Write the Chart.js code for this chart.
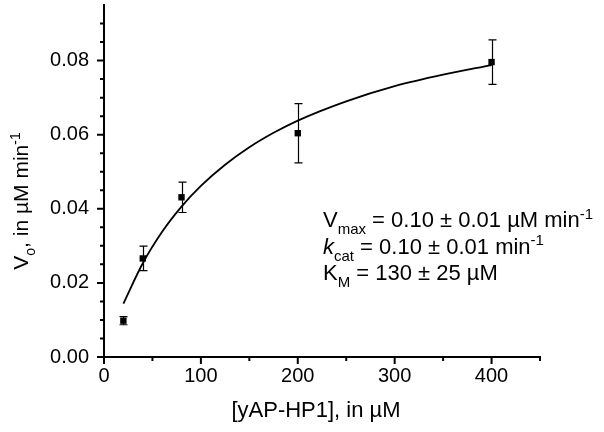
<!DOCTYPE html>
<html>
<head>
<meta charset="utf-8">
<script src="https://cdn.jsdelivr.net/npm/chart.js@4"></script>
<style>
  html, body { margin: 0; padding: 0; background: #fff; }
</style>
</head>
<body>
<canvas id="kinChart" width="604" height="432"></canvas>
<script>
// measured points (substrate conc, initial rate, error)
const conc = [20, 40, 80, 200, 400];
const rate = [0.0098, 0.0266, 0.0431, 0.0604, 0.0796];
const rateErr = [0.0011, 0.0033, 0.0041, 0.0080, 0.0060];

// fitted curve
const fitConc = [20, 40, 60, 80, 100, 125, 150, 175, 200, 250, 300, 350, 400];
const fitRate = [0.0144, 0.0253, 0.0338, 0.0406, 0.0462, 0.0519, 0.0566, 0.0605, 0.0638, 0.0690, 0.0731, 0.0762, 0.0788];

const xTicks = [0, 100, 200, 300, 400];
const xMinorTicks = [50, 150, 250, 350, 450];
const yTicks = [0, 0.02, 0.04, 0.06, 0.08];
const yMinorTicks = [0.005, 0.01, 0.015, 0.025, 0.03, 0.035, 0.045, 0.05, 0.055, 0.065, 0.07, 0.075, 0.085, 0.09];

const fontFamily = "'Liberation Sans', Arial, sans-serif";
const ink = '#000';

// rich text helpers (sub/superscripts, italics)
function partFont(p, size) {
  const s = (p.sub || p.sup) ? Math.round(size * 0.68) : size;
  return `${p.italic ? 'italic ' : ''}${s}px ${fontFamily}`;
}
function measureRich(ctx, parts, size) {
  let w = 0;
  parts.forEach(p => { ctx.font = partFont(p, size); w += ctx.measureText(p.t).width; });
  return w;
}
function drawRich(ctx, x, y, parts, size) {
  let cx = x;
  parts.forEach(p => {
    ctx.font = partFont(p, size);
    const dy = p.sub ? size * 0.32 : p.sup ? -size * 0.38 : 0;
    ctx.fillText(p.t, cx, y + dy);
    cx += ctx.measureText(p.t).width;
  });
}

const yTitle = [{t: 'V'}, {t: 'o', sub: true}, {t: ', in \u00b5M min'}, {t: '-1', sup: true}];
const xTitle = [{t: '[yAP-HP1], in \u00b5M'}];
const fitText = [
  [{t: 'V'}, {t: 'max', sub: true}, {t: ' = 0.10 \u00b1 0.01 \u00b5M min'}, {t: '-1', sup: true}],
  [{t: 'k', italic: true}, {t: 'cat', sub: true}, {t: ' = 0.10 \u00b1 0.01 min'}, {t: '-1', sup: true}],
  [{t: 'K'}, {t: 'M', sub: true}, {t: ' = 130 \u00b1 25 \u00b5M'}]
];

const decorPlugin = {
  id: 'decor',
  beforeDatasetsDraw(chart) {
    const { ctx, scales: { x, y } } = chart;
    ctx.save();
    ctx.strokeStyle = ink;
    ctx.lineWidth = 1.2;
    conc.forEach((c, i) => {
      const px = Math.round(x.getPixelForValue(c)) + 0.5;
      const top = y.getPixelForValue(rate[i] + rateErr[i]);
      const bot = y.getPixelForValue(rate[i] - rateErr[i]);
      ctx.beginPath();
      ctx.moveTo(px, top); ctx.lineTo(px, bot);
      ctx.moveTo(px - 4, top); ctx.lineTo(px + 4, top);
      ctx.moveTo(px - 4, bot); ctx.lineTo(px + 4, bot);
      ctx.stroke();
    });
    ctx.restore();
  },
  afterDraw(chart) {
    const { ctx, chartArea: area, scales: { x, y } } = chart;
    ctx.save();
    ctx.strokeStyle = ink;
    ctx.fillStyle = ink;
    ctx.lineWidth = 2;
    ctx.beginPath();
    xTicks.forEach(v => { const p = x.getPixelForValue(v); ctx.moveTo(p, area.bottom); ctx.lineTo(p, area.bottom + 7); });
    xMinorTicks.forEach(v => { const p = x.getPixelForValue(v); ctx.moveTo(p, area.bottom); ctx.lineTo(p, area.bottom + 4); });
    yTicks.forEach(v => { const p = y.getPixelForValue(v); ctx.moveTo(area.left, p); ctx.lineTo(area.left - 7, p); });
    yMinorTicks.forEach(v => { const p = y.getPixelForValue(v); ctx.moveTo(area.left, p); ctx.lineTo(area.left - 4, p); });
    ctx.stroke();

    ctx.textBaseline = 'alphabetic';
    // x title
    const xw = measureRich(ctx, xTitle, 22);
    drawRich(ctx, (area.left + area.right) / 2 - xw / 2 - 6, 417, xTitle, 22);
    // y title, rotated
    const yw = measureRich(ctx, yTitle, 21);
    ctx.save();
    ctx.translate(28, (area.top + area.bottom) / 2 + 20);
    ctx.rotate(-Math.PI / 2);
    drawRich(ctx, -yw / 2, 0, yTitle, 21);
    ctx.restore();
    // fit parameters
    fitText.forEach((line, i) => drawRich(ctx, 323, 227 + i * 26.5, line, 22));
    ctx.restore();
  }
};

new Chart(document.getElementById('kinChart'), {
  data: {
    datasets: [
      {
        type: 'line',
        data: fitConc.map((c, i) => ({ x: c, y: fitRate[i] })),
        borderColor: ink,
        borderWidth: 1.8,
        pointRadius: 0,
        fill: false,
        cubicInterpolationMode: 'monotone'
      },
      {
        type: 'scatter',
        data: conc.map((c, i) => ({ x: c, y: rate[i] })),
        pointStyle: 'rect',
        pointRadius: 4.5,
        backgroundColor: ink,
        borderColor: ink,
        borderWidth: 0
      }
    ]
  },
  options: {
    responsive: false,
    animation: false,
    devicePixelRatio: 1,
    layout: { padding: { left: 0, top: 5, right: 64, bottom: 0 } },
    plugins: { legend: { display: false }, tooltip: { enabled: false } },
    scales: {
      x: {
        type: 'linear',
        min: 0,
        max: 450,
        afterBuildTicks: s => { s.ticks = xTicks.map(v => ({ value: v })); },
        afterFit: s => { s.height = 75; s.paddingLeft = 0; s.paddingRight = 0; },
        grid: { display: false, drawTicks: false },
        border: { display: true, color: ink, width: 2 },
        ticks: { color: ink, padding: 7, font: { family: fontFamily, size: 20 }, maxRotation: 0 }
      },
      y: {
        type: 'linear',
        min: 0,
        max: 0.095,
        afterBuildTicks: s => { s.ticks = yTicks.map(v => ({ value: v })); },
        afterFit: s => { s.width = 104; s.paddingTop = 0; s.paddingBottom = 0; },
        grid: { display: false, drawTicks: false },
        border: { display: true, color: ink, width: 2 },
        ticks: { color: ink, padding: 15, font: { family: fontFamily, size: 20 }, callback: v => v.toFixed(2) }
      }
    }
  },
  plugins: [decorPlugin]
});
</script>
</body>
</html>
